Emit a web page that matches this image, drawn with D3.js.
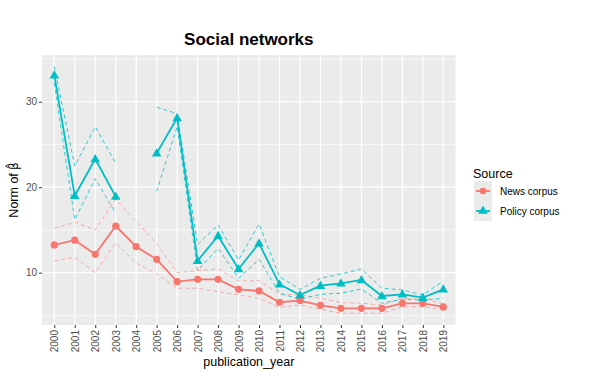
<!DOCTYPE html>
<html><head><meta charset="utf-8">
<script src="https://cdn.jsdelivr.net/npm/d3@7"></script>
<style>body{margin:0;background:#fff;font-family:Arial,"Liberation Sans",sans-serif}</style>
</head><body><svg id="c" width="602" height="371"></svg>
<script>
const years = [2000,2001,2002,2003,2004,2005,2006,2007,2008,2009,2010,2011,2012,2013,2014,2015,2016,2017,2018,2019];
const newsMean  = [13.24,13.8,12.15,15.46,13.04,11.56,8.95,9.22,9.22,8.05,7.86,6.54,6.73,6.18,5.83,5.83,5.83,6.42,6.42,5.99];
const newsUpper = [15.19,15.9,15.0,18.58,15.97,13.4,10.0,10.24,10.43,9.03,9.07,7.47,7.4,7.0,6.49,6.42,6.22,7.0,7.0,6.34];
const newsLower = [11.4,11.8,10.0,13.5,11.1,9.85,8.18,8.18,7.78,7.39,7.0,5.95,6.22,5.72,5.25,5.25,5.25,6.02,6.02,5.64];
const policyMean  = [33.1,19.0,23.3,18.9,null,23.96,28.1,11.4,14.3,10.43,13.44,8.64,7.39,8.48,8.76,9.15,7.27,7.47,7.08,8.05];
const policyUpper = [34.1,22.48,27.08,22.8,null,29.35,28.6,13.3,15.58,11.49,15.7,9.53,8.05,9.34,9.85,10.43,8.18,7.98,7.39,9.03];
const policyLower = [32.2,16.2,21.0,16.95,null,19.5,27.1,10.24,12.85,9.34,11.57,7.6,6.89,7.47,7.6,8.1,6.42,6.89,6.81,7.0];
const yTicks = [10,20,30];
const yMinor = [5,15,25,35];
const seriesNames = ["News corpus","Policy corpus"];
const colors = ["#F8766D","#00BFC4"];

const svg = d3.select("#c");
const L=42,R=455.6,T=55,B=325;
const x = d3.scalePoint().domain(years).range([L,R]).padding(0.6);
const y = d3.scaleLinear().domain([3.88,35.46]).range([B,T]);

svg.append("rect").attr("x",L).attr("y",T).attr("width",R-L).attr("height",B-T).attr("fill","#EBEBEB");
const g = svg.append("g");
yMinor.forEach(v=>{ if(y(v)>=T) g.append("line").attr("x1",L).attr("x2",R).attr("y1",y(v)).attr("y2",y(v)).attr("stroke","#fff").attr("stroke-width",0.6);});
yTicks.forEach(v=>g.append("line").attr("x1",L).attr("x2",R).attr("y1",y(v)).attr("y2",y(v)).attr("stroke","#fff").attr("stroke-width",1.2));
years.forEach(v=>g.append("line").attr("x1",x(v)).attr("x2",x(v)).attr("y1",T).attr("y2",B).attr("stroke","#fff").attr("stroke-width",1.2));

const ya = svg.append("g").attr("transform",`translate(${L},0)`).call(d3.axisLeft(y).tickValues(yTicks).tickSize(3).tickPadding(2));
ya.select(".domain").remove();
ya.selectAll(".tick line").attr("stroke","#333");
ya.selectAll("text").attr("fill","#4D4D4D").style("font-size","10px").style("font-family","Arial,'Liberation Sans',sans-serif");
const xa = svg.append("g").attr("transform",`translate(0,${B})`).call(d3.axisBottom(x).tickSize(3).tickPadding(2));
xa.select(".domain").remove();
xa.selectAll(".tick line").attr("stroke","#333");
xa.selectAll("text").attr("fill","#4D4D4D").style("font-size","10px").style("font-family","Arial,'Liberation Sans',sans-serif")
  .attr("transform","rotate(-90)").attr("text-anchor","end").attr("dy","0.35em").attr("x",-5).attr("y",0);

const line = d3.line().defined(d=>d[1]!=null).x(d=>x(d[0])).y(d=>y(d[1]));
const mk = arr => years.map((yr,i)=>[yr,arr[i]]);
const sets = [[newsMean,newsUpper,newsLower],[policyMean,policyUpper,policyLower]];
sets.forEach((s,k)=>{
  [s[1],s[2]].forEach(a=>svg.append("path").attr("d",line(mk(a))).attr("fill","none").attr("stroke",colors[k]).attr("stroke-width",0.8).attr("stroke-dasharray","4,3").attr("opacity",k==0?0.7:1));
  svg.append("path").attr("d",line(mk(s[0]))).attr("fill","none").attr("stroke",colors[k]).attr("stroke-width",1.8);
});
svg.selectAll(".pn").data(mk(newsMean)).join("circle").attr("cx",d=>x(d[0])).attr("cy",d=>y(d[1])).attr("r",3.6).attr("fill",colors[0]);
const tri = d3.symbol().type(d3.symbolTriangle).size(40);
svg.selectAll(".pp").data(mk(policyMean).filter(d=>d[1]!=null)).join("path").attr("d",tri).attr("transform",d=>`translate(${x(d[0])},${y(d[1])+0.5})`).attr("fill",colors[1]);

svg.append("text").attr("x",(L+R)/2).attr("y",45).attr("text-anchor","middle").style("font-size","17px").style("font-weight","bold").attr("fill","#000").text("Social networks");
svg.append("text").attr("x",(L+R)/2).attr("y",366).attr("text-anchor","middle").style("font-size","12.5px").attr("fill","#000").text("publication_year");
const yt = svg.append("text").attr("transform",`translate(18,${(T+B)/2}) rotate(-90)`).attr("text-anchor","middle").style("font-size","12.5px").attr("fill","#000");
yt.append("tspan").text("Norm of ");
yt.append("tspan").style("font-family","'DejaVu Sans'").style("font-size","11.5px").text("\u03B2\u0302");

svg.append("text").attr("x",473).attr("y",178).style("font-size","12.5px").attr("fill","#000").text("Source");
seriesNames.forEach((n,i)=>{
  const cy = 191+i*20;
  svg.append("rect").attr("x",474).attr("y",cy-10).attr("width",18).attr("height",20).attr("fill","#EBEBEB");
  svg.append("line").attr("x1",476).attr("x2",490).attr("y1",cy).attr("y2",cy).attr("stroke",colors[i]).attr("stroke-width",1.8);
  if(i==0) svg.append("circle").attr("cx",483).attr("cy",cy).attr("r",3.2).attr("fill",colors[0]);
  else svg.append("path").attr("d",tri).attr("transform",`translate(483,${cy})`).attr("fill",colors[1]);
  svg.append("text").attr("x",500).attr("y",cy+3.5).style("font-size","10px").attr("fill","#000").text(n);
});
</script></body></html>
